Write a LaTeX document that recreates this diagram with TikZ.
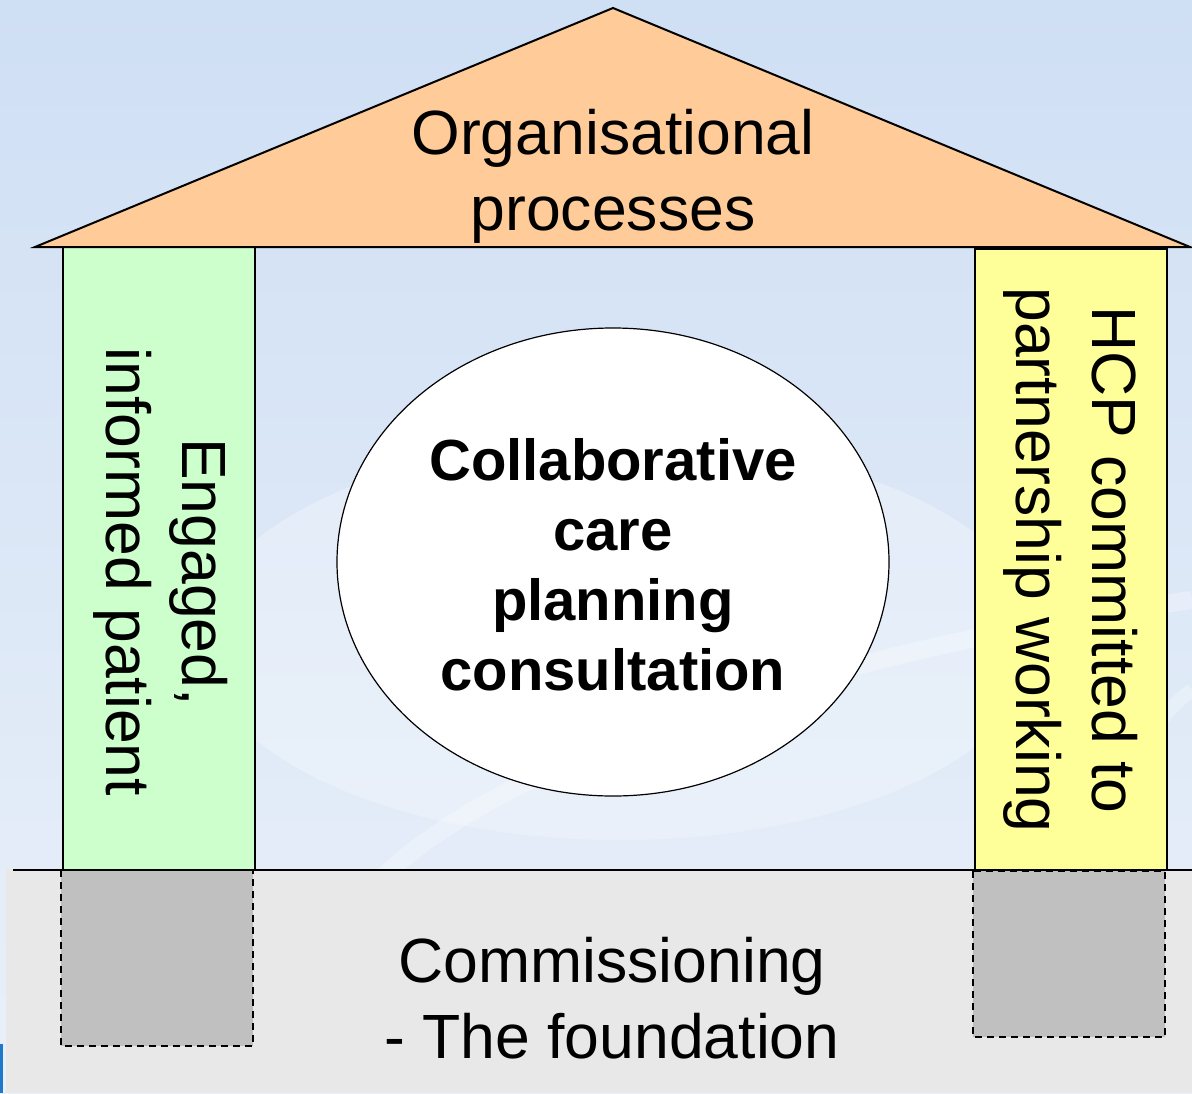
\documentclass[tikz,border=0pt]{standalone}
\usepackage{fontspec}
\setmainfont{Liberation Sans}
\usetikzlibrary{shapes.geometric}
\definecolor{skytop}{HTML}{CFDFF4}
\definecolor{skybottom}{HTML}{E9F0F9}
\definecolor{roofcol}{HTML}{FFCC99}
\definecolor{leftcol}{HTML}{CCFFCC}
\definecolor{rightcol}{HTML}{FFFF99}
\definecolor{groundcol}{HTML}{E8E8E8}
\definecolor{footcol}{HTML}{C0C0C0}
\definecolor{edgeblue}{HTML}{1F78C8}
\begin{document}
\begin{tikzpicture}[x=1pt,y=-1pt,
  outline/.style={draw=black,line width=2pt},
  footing/.style={draw=black,line width=2pt,dash pattern=on 7pt off 5pt,fill=footcol},
  plain/.style={font=\fontsize{62.5}{76}\selectfont,align=center,inner sep=0pt},
  strong/.style={font=\bfseries\fontsize{58}{70}\selectfont,align=center,inner sep=0pt}]
\useasboundingbox (0,0) rectangle (1192,1093);

% sky behind the house
\shade[top color=skytop,bottom color=skybottom] (0,0) rectangle (1192,1093);
\fill[white,opacity=0.25] (620,640) ellipse [x radius=420,y radius=200];
\draw[white,opacity=0.3,line width=18pt] (380,880) .. controls (520,740) and (900,640) .. (1192,600);
\draw[white,opacity=0.25,line width=14pt] (1100,880) .. controls (1120,780) and (1150,720) .. (1192,690);

% foundation slab
\fill[groundcol] (6,869) rectangle (1192,1093);
\fill[edgeblue] (0,1044) rectangle (3,1093);
\coordinate (groundL) at (13,870);
\coordinate (groundR) at (1192,870);
\draw[line width=1.6pt] (groundL) -- (groundR);

% footings under the pillars
\draw[footing] (61,870) rectangle (253,1046);
\draw[footing] (973,871) rectangle (1165,1037);

% pillars
\draw[outline,fill=leftcol] (63,247) rectangle (255,870);
\draw[outline,fill=rightcol] (975,249) rectangle (1167,870);

% roof
\draw[outline,fill=roofcol,line join=miter] (35,247) -- (613,8) -- (1190,247) -- cycle;

% central consultation
\node[ellipse,draw=black,line width=1.2pt,fill=white,minimum width=552pt,minimum height=468pt,inner sep=0pt] (core) at (613,562) {};

% labels
\node[plain] (roof) at (613,176) {Organisational\\processes};
\node[strong] (care) at (613,565) {Collaborative\\care\\planning\\consultation};
\node[plain,rotate=-90] (patient) at (161,572) {Engaged,\\informed patient};
\node[plain,rotate=-90] (hcp) at (1071,560) {HCP committed to\\partnership working};
\node[plain] (base) at (612,998) {Commissioning\\- The foundation};
\end{tikzpicture}
\end{document}
